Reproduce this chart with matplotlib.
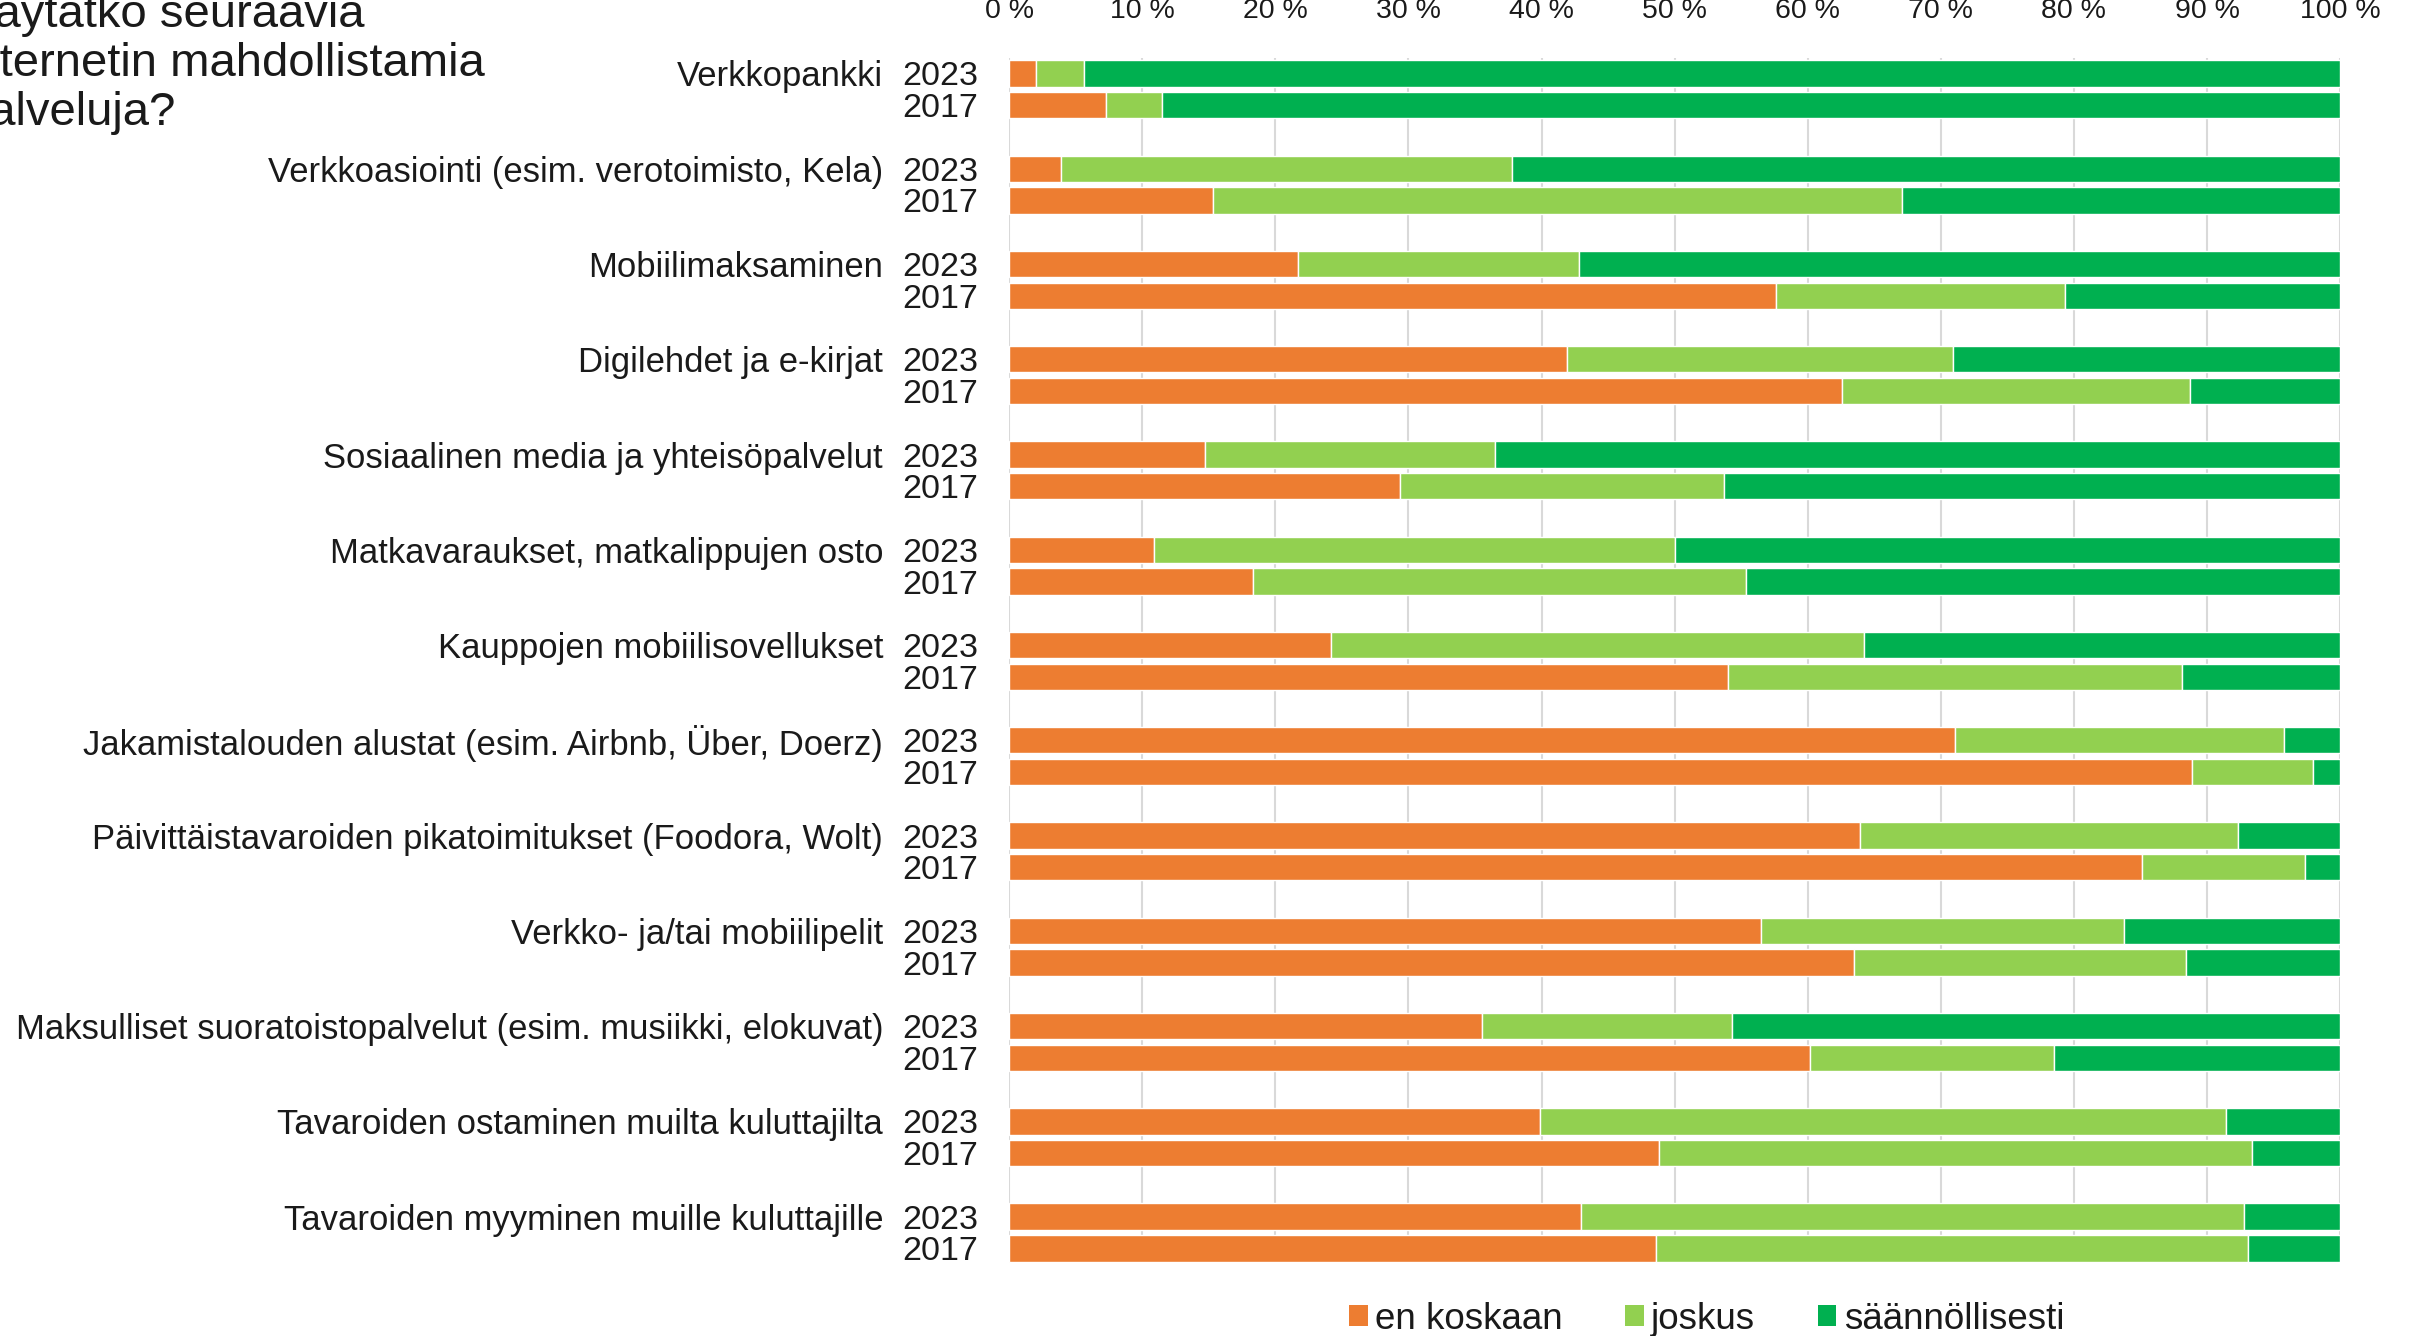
import numpy as np
import matplotlib
matplotlib.use("Agg")
from matplotlib import pyplot as plt
from matplotlib.patches import Patch
import matplotlib.transforms as mtransforms

# service categories, top to bottom
categories = [
    "Verkkopankki",
    "Verkkoasiointi (esim. verotoimisto, Kela)",
    "Mobiilimaksaminen",
    "Digilehdet ja e-kirjat",
    "Sosiaalinen media ja yhteisöpalvelut",
    "Matkavaraukset, matkalippujen osto",
    "Kauppojen mobiilisovellukset",
    "Jakamistalouden alustat (esim. Airbnb, Über, Doerz)",
    "Päivittäistavaroiden pikatoimitukset (Foodora, Wolt)",
    "Verkko- ja/tai mobiilipelit",
    "Maksulliset suoratoistopalvelut (esim. musiikki, elokuvat)",
    "Tavaroiden ostaminen muilta kuluttajilta",
    "Tavaroiden myyminen muille kuluttajille",
]
years = ["2023", "2017"]
series_names = ["en koskaan", "joskus", "säännöllisesti"]

# percentages
never_2023 = [2.0, 3.9, 21.7, 41.9, 14.7, 10.9, 24.2, 71.1, 63.9, 56.5, 35.5, 39.9, 43.0]
sometimes_2023 = [3.6, 33.9, 21.1, 29.0, 21.8, 39.1, 40.0, 24.7, 28.4, 27.3, 18.8, 51.5, 49.8]
regular_2023 = [94.4, 62.2, 57.2, 29.1, 63.5, 50.0, 35.8, 4.2, 7.7, 16.2, 45.7, 8.6, 7.2]

never_2017 = [7.3, 15.3, 57.6, 62.6, 29.4, 18.3, 54.0, 88.9, 85.1, 63.5, 60.2, 48.8, 48.6]
sometimes_2017 = [4.2, 51.8, 21.7, 26.1, 24.3, 37.1, 34.1, 9.1, 12.3, 24.9, 18.3, 44.6, 44.5]
regular_2017 = [88.5, 32.9, 20.7, 11.3, 46.3, 44.6, 11.9, 2.0, 2.6, 11.6, 21.5, 6.6, 6.9]

ticks = [0, 10, 20, 30, 40, 50, 60, 70, 80, 90, 100]
colors = ["#ED7D31", "#92D050", "#00B050"]
text_col = "#1a1a1a"

plt.rcParams["font.family"] = ["Liberation Sans", "DejaVu Sans"]

fig = plt.figure(figsize=(24.09, 13.36), dpi=100)
ax = fig.add_axes([0.4189, 0.0549, 0.5525, 0.902])

n = len(categories)
pos_2023 = np.arange(n) * 3
pos_2017 = np.arange(n) * 3 + 1
h = 0.83

for pos, vals in [(pos_2023, (never_2023, sometimes_2023, regular_2023)),
                  (pos_2017, (never_2017, sometimes_2017, regular_2017))]:
    left = np.zeros(n)
    for v, c in zip(vals, colors):
        v = np.array(v)
        ax.barh(pos, v, left=left, height=h, color=c, edgecolor="white", linewidth=1, zorder=3)
        left = left + v

ax.set_xlim(0, 100)
ax.set_ylim(37.45, -0.5)

ax.xaxis.tick_top()
ax.set_xticks(ticks)
ax.set_xticklabels(["%d %%" % t for t in ticks], fontsize=20.5, color=text_col)
ax.tick_params(axis="x", length=0, pad=24)
ax.grid(axis="x", color="#d9d9d9", linewidth=1.5, zorder=0)

ypos = np.concatenate([pos_2023, pos_2017])
ylab = [years[0]] * n + [years[1]] * n
ax.set_yticks(ypos)
ax.set_yticklabels(ylab, fontsize=24.5, color=text_col)
ax.tick_params(axis="y", length=0, pad=22)

for s in ax.spines.values():
    s.set_visible(False)

trans = mtransforms.blended_transform_factory(ax.transAxes, ax.transData)
for i, cat in enumerate(categories):
    ax.text(-0.0947, pos_2023[i], cat, transform=trans, ha="right", va="center_baseline",
            fontsize=24.9, color=text_col)

fig.text(-0.0152, 0.952, "Käytätkö seuraavia\ninternetin mahdollistamia\npalveluja?",
         ha="left", va="center", fontsize=34, color=text_col, linespacing=1.14)

handles = [Patch(facecolor=c, edgecolor="none") for c in colors]
fig.legend(handles, series_names, loc="center", bbox_to_anchor=(0.7085, 0.0125), ncol=3,
           frameon=False, fontsize=26.5, handlelength=0.5, handleheight=0.5,
           handletextpad=0.2, columnspacing=1.7, labelcolor=text_col)

fig.savefig("out.png", dpi=100)
